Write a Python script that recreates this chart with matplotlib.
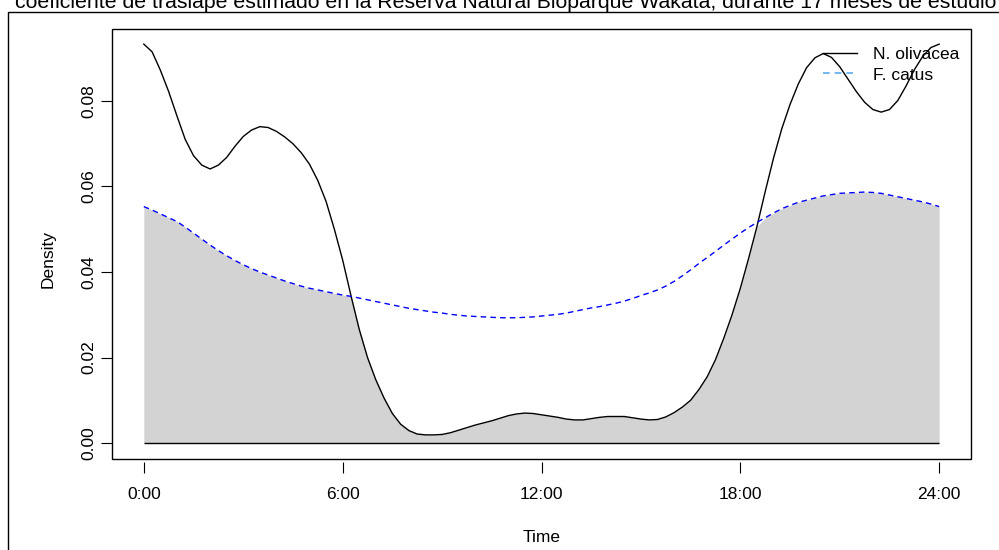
import numpy as np
import matplotlib
matplotlib.use("Agg")
from matplotlib import pyplot as plt
from matplotlib.patches import Rectangle
from matplotlib.lines import Line2D

# hours of the day, every quarter hour
hours = np.arange(0, 24.25, 0.25)

# estimated kernel densities (one row per hour)
n_olivacea = [
    0.0933, 0.0915, 0.0872, 0.0822,   # 0h
    0.0765, 0.0710, 0.0672, 0.0650,   # 1h
    0.0641, 0.0650, 0.0668, 0.0694,   # 2h
    0.0717, 0.0732, 0.0740, 0.0738,   # 3h
    0.0729, 0.0716, 0.0700, 0.0679,   # 4h
    0.0652, 0.0614, 0.0565, 0.0500,   # 5h
    0.0428, 0.0345, 0.0266, 0.0200,   # 6h
    0.0148, 0.0105, 0.0069, 0.0044,   # 7h
    0.0029, 0.0021, 0.0019, 0.0019,   # 8h
    0.0020, 0.0024, 0.0030, 0.0036,   # 9h
    0.0042, 0.0047, 0.0052, 0.0058,   # 10h
    0.0064, 0.0068, 0.0070, 0.0069,   # 11h
    0.0066, 0.0063, 0.0060, 0.0056,   # 12h
    0.0054, 0.0054, 0.0057, 0.0060,   # 13h
    0.0062, 0.0062, 0.0062, 0.0059,   # 14h
    0.0056, 0.0054, 0.0055, 0.0061,   # 15h
    0.0071, 0.0084, 0.0100, 0.0125,   # 16h
    0.0155, 0.0195, 0.0245, 0.0300,   # 17h
    0.0362, 0.0432, 0.0506, 0.0588,   # 18h
    0.0666, 0.0735, 0.0792, 0.0840,   # 19h
    0.0878, 0.0901, 0.0911, 0.0902,   # 20h
    0.0880, 0.0851, 0.0822, 0.0797,   # 21h
    0.0780, 0.0774, 0.0780, 0.0801,   # 22h
    0.0835, 0.0873, 0.0904, 0.0925,   # 23h
    0.0933,                           # 24h
]
f_catus = [
    0.0553, 0.0545, 0.0536, 0.0527,
    0.0518, 0.0505, 0.0491, 0.0477,
    0.0463, 0.0450, 0.0438, 0.0427,
    0.0417, 0.0408, 0.0400, 0.0393,
    0.0386, 0.0379, 0.0373, 0.0367,
    0.0362, 0.0358, 0.0354, 0.0350,
    0.0346, 0.0343, 0.0339, 0.0335,
    0.0331, 0.0327, 0.0323, 0.0319,
    0.0315, 0.0312, 0.0309, 0.0306,
    0.0304, 0.0301, 0.0299, 0.0297,
    0.0296, 0.0295, 0.0294, 0.0293,
    0.0293, 0.0293, 0.0294, 0.0295,
    0.0297, 0.0299, 0.0301, 0.0304,
    0.0308, 0.0312, 0.0316, 0.0319,
    0.0323, 0.0327, 0.0332, 0.0338,
    0.0345, 0.0351, 0.0358, 0.0367,
    0.0378, 0.0391, 0.0405, 0.0420,
    0.0434, 0.0448, 0.0463, 0.0477,
    0.0491, 0.0504, 0.0516, 0.0527,
    0.0538, 0.0548, 0.0556, 0.0563,
    0.0568, 0.0573, 0.0578, 0.0581,
    0.0584, 0.0585, 0.0586, 0.0587,
    0.0586, 0.0584, 0.0580, 0.0576,
    0.0572, 0.0568, 0.0564, 0.0559,
    0.0553,
]

xticks = [0, 6, 12, 18, 24]
xticklabels = ["0:00", "6:00", "12:00", "18:00", "24:00"]
yticks = [0.00, 0.02, 0.04, 0.06, 0.08]
series_names = ["N. olivacea", "F. catus"]
title = ("coeficiente de traslape estimado en la Reserva Natural Bioparque Wakata, "
         "durante 17 meses de estudio")

plt.rcParams["font.family"] = ["Liberation Sans", "DejaVu Sans"]
fs = 12.5

W, H = 999, 550
fig = plt.figure(figsize=(W / 100, H / 100), dpi=100)
ax = fig.add_axes([112 / W, 1 - 459 / H, (971 - 112) / W, (459 - 29) / H])

n_ol = np.array(n_olivacea)
f_ca = np.array(f_catus)
ax.fill_between(hours, 0, np.minimum(n_ol, f_ca), color="#d3d3d3", lw=0, zorder=1)
ax.hlines(0, hours.min(), hours.max(), color="black", lw=1.0, zorder=2)
ax.plot(hours, n_ol, color="black", lw=1.0, zorder=3)
ax.plot(hours, f_ca, color="blue", lw=1.0, dashes=(4, 3), zorder=3)

ax.set_xlim(-0.96, 24.96)
ax.set_ylim(-0.00374, 0.09684)

# R style: x ticks detached slightly from the box
for side in ["top", "right", "left", "bottom"]:
    ax.spines[side].set_visible(False)
ax.spines["bottom"].set_position(("outward", 2.2))
ax.add_patch(Rectangle((0, 0), 1, 1, transform=ax.transAxes, fill=False,
                       lw=1.0, ec="black", clip_on=False, zorder=5))

ax.set_xticks(xticks, xticklabels)
ax.set_yticks(yticks, [f"{v:.2f}" for v in yticks])
ax.tick_params(axis="x", direction="out", length=8, width=0.8, pad=10, labelsize=fs)
ax.tick_params(axis="y", direction="out", length=8, width=0.8, pad=3.5, labelsize=fs,
               labelrotation=90)
for lab in ax.get_yticklabels():
    lab.set_va("center")

ax.set_xlabel("Time", fontsize=fs)
ax.xaxis.set_label_coords(0.5, -(538 - 459) / (459 - 29), transform=ax.transAxes)
ax.xaxis.label.set_va("center")
ax.set_ylabel("Density", fontsize=fs)
ax.yaxis.set_label_coords(-(112 - 48) / (971 - 112), (459 - 259) / (459 - 29))
ax.yaxis.label.set_va("center")

handles = [Line2D([], [], color="black", lw=1.0),
           Line2D([], [], color="#5aaaf0", lw=1.2, dashes=(4, 3))]
ax.legend(handles, series_names, loc="upper left", frameon=False, fontsize=fs,
          bbox_to_anchor=(823 / W, 1 - 47 / H), bbox_transform=fig.transFigure,
          borderpad=0, borderaxespad=0, handlelength=1.95, handletextpad=0.95,
          labelspacing=0.3)

# outer figure box (cropped on right and bottom)
fig.add_artist(Rectangle((8 / W, -0.1), 2, 1.1 - 12 / H, transform=fig.transFigure,
                         fill=False, lw=1.0, ec="black"))
fig.text(15 / W, 1 - 8 / H, title, fontsize=15.35, ha="left", va="baseline")

fig.savefig("out.png", dpi=100)
